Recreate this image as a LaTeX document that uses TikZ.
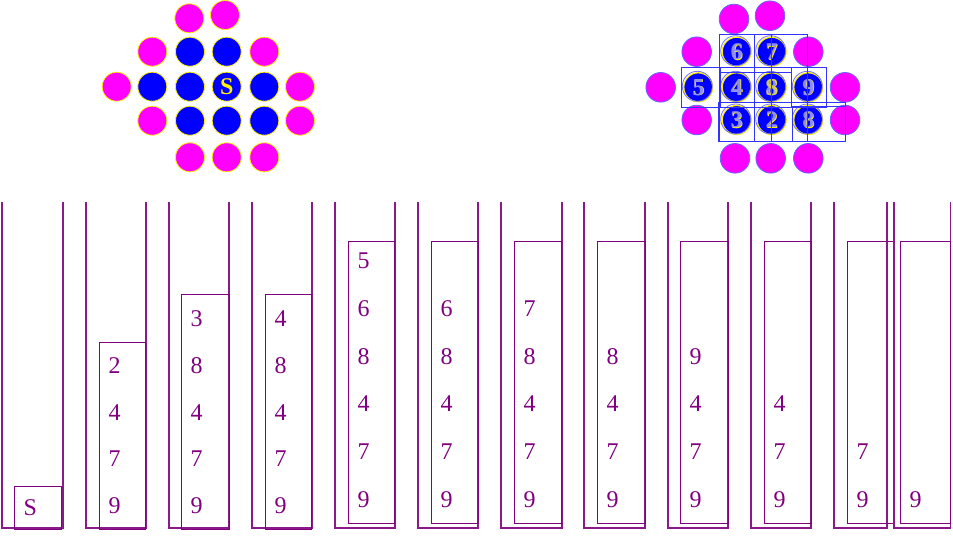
\documentclass[tikz,border=0pt]{standalone}
\usepackage{fontspec}
\setmainfont{Liberation Serif}
\definecolor{stackline}{RGB}{140,25,140}
\definecolor{stacktext}{RGB}{128,0,128}
\definecolor{pinkball}{RGB}{255,0,255}

\begin{document}
\begin{tikzpicture}[x=1pt,y=-1pt,
  item/.style={anchor=west,inner sep=0pt,text=stacktext,font=\fontsize{24}{28}\selectfont},
  digit/.style={inner sep=0pt,font=\bfseries\fontsize{24}{28}\selectfont}]
\useasboundingbox (0,0) rectangle (953,539);
% Left board: border balls and inner balls
\foreach \x/\y in {189.3/18.3,225/15,152.3/51.7,264.3/51.7,116.7/86.7,300/86.7,
  152.3/120.7,300/120.7,190/157.3,226.7/157.3,264.3/157.3}
  \path[fill=pinkball,draw=yellow,line width=.8pt] (\x,\y) circle (14.5pt);
\foreach \x/\y in {190/51.7,226.7/51.7,152.3/86.7,190/86.7,226.7/86.7,264.3/86.7,
  190/120.7,226.7/120.7,264.3/120.7}
  \path[fill=blue,draw=yellow,line width=.8pt] (\x,\y) circle (14.5pt);
\node[digit,yellow] (start) at (226.7,86.7) {S};
% Right board: same balls, numbered
\foreach \x/\y in {734/19,770/15.7,696.7/51.7,808.3/51.7,660.7/87.3,845/87.3,
  696.7/120,845/120,735/158.3,770.7/158.3,808.3/158.3}
  \path[fill=pinkball,draw=blue!60!white,line width=.8pt] (\x,\y) circle (14.8pt);
\foreach \x/\y/\d [count=\k] in {736.7/51.7/6,771.7/51.7/7,698.3/87.3/5,736.7/87.3/4,
  771.7/87.3/8,808.3/87.3/9,736.7/120/3,771.7/120/2,808.3/120/8}
{
  \path[fill=blue,draw=yellow,line width=1.2pt] (\x,\y) circle (14.5pt);
  \draw[blue!55!white,line width=.8pt] (\x-1,\y-1) circle (15pt);
  \node[digit,yellow] (y\k) at (\x+.7,\y+.7) {\d};
  \node[digit,blue!45!white] (n\k) at (\x,\y) {\d};
}
\node[digit,yellow,opacity=.6] (rs) at (771.7,87.3) {S};
% Boxes over the numbered balls
\begin{scope}[draw=blue!80!white,line width=.9pt]
\draw (681,67.5) rectangle (826.7,107.3);
\draw (681,67.5) rectangle (720.7,107.3);
\draw (791,67.5) rectangle (826.7,107.3);
\draw (719.3,34) rectangle (807.5,141.5);
\draw (754,34) rectangle (771.5,141.5);
\draw (720.7,72.7) rectangle (791,107.3);
\draw (718.3,102.7) rectangle (845.7,141.5);
\draw (792.3,106.7) rectangle (845.7,141.5);
\end{scope}
% Stacks, items listed bottom up
\foreach \l/\r/\il/\ir/\t/\b/\h/\items [count=\i] in {
  2.3/62.7/14.3/61.7/486/529/43/{S},
  85.7/145.7/99.3/145.7/342.3/529/46.7/{9,7,4,2},
  168.7/229/181.3/229/294.3/529/46.7/{9,7,4,8,3},
  251.7/311.7/265.3/311.7/294.3/529/46.7/{9,7,4,8,4},
  334.7/394.7/348.3/394.7/241.3/523/47.6/{9,7,4,8,6,5},
  417.7/478.3/431.3/478.3/241.3/523/47.6/{9,7,4,8,6},
  500.7/561.7/514.3/561.7/241.3/523/47.6/{9,7,4,8,7},
  583.7/645/597.3/645/241.3/523/47.6/{9,7,4,8},
  667.7/728/680.3/728/241.3/523/47.6/{9,7,4,9},
  750.7/811/764.3/811/241.3/523/47.6/{9,7,4},
  833.7/887/847.3/894/241.3/523/47.6/{9,7},
  894/950.5/900.3/950.3/241.3/523/47.6/{9}}
{
  \draw[stackline,line width=1.8pt] (\l,202) -- (\l,527.7) -- (\r,527.7) -- (\r,202);
  \draw[stacktext,line width=1pt] (\il,\t) rectangle (\ir,\b);
  \foreach \d [count=\k] in \items
    \node[item] (s\i-\k) at (\il+9,\b-\h*\k+\h/2) {\d};
}
\end{tikzpicture}
\end{document}
